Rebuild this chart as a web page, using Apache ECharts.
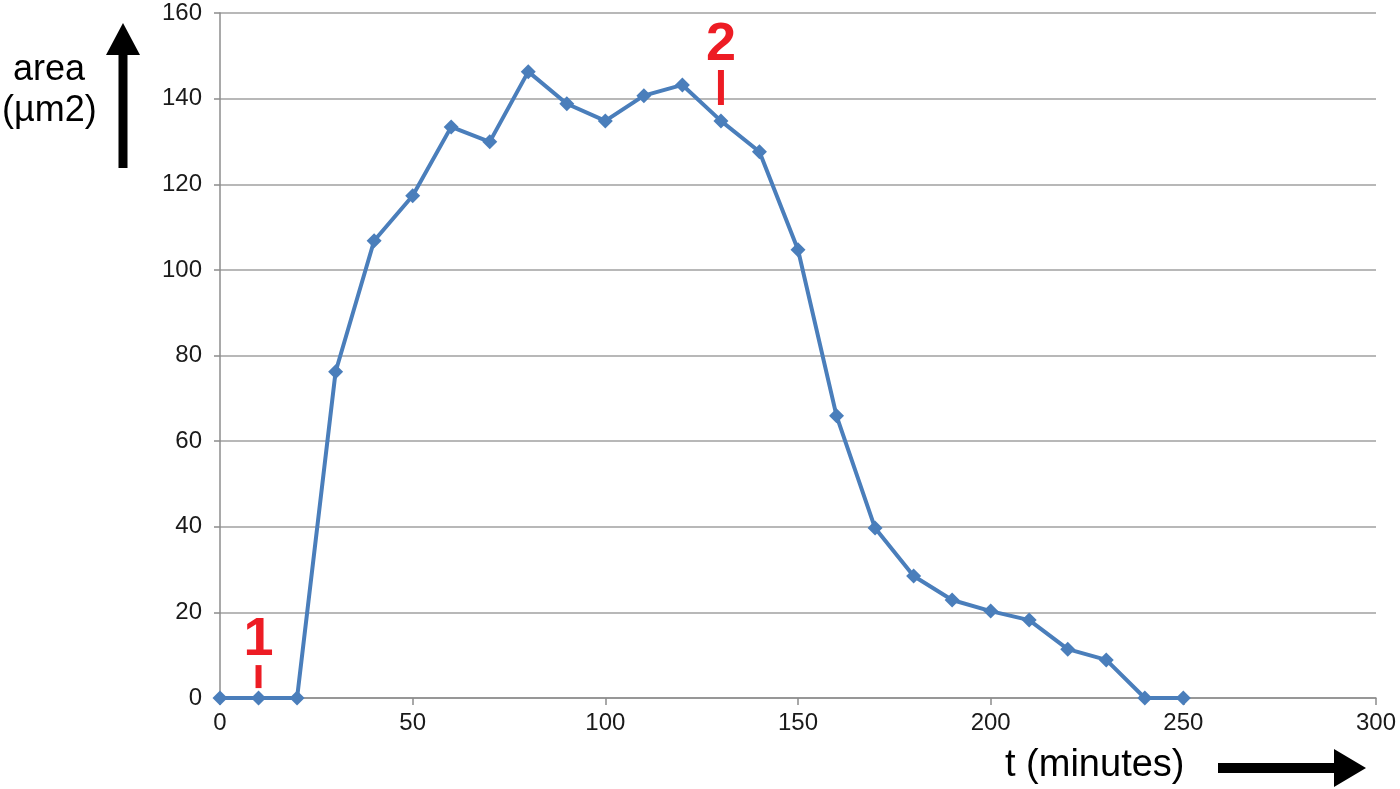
<!DOCTYPE html>
<html>
<head>
<meta charset="utf-8">
<script src="https://cdn.jsdelivr.net/npm/echarts@6/dist/echarts.min.js"></script>
<style>
  html, body { margin: 0; padding: 0; background: #fff; }
  #main { width: 1400px; height: 789px; }
</style>
</head>
<body>
<div id="main"></div>
<script>
// time in minutes
const times = [0, 10, 20, 30, 40, 50, 60, 70, 80, 90, 100, 110, 120, 130, 140, 150, 160, 170, 180, 190, 200, 210, 220, 230, 240, 250]
// area in µm2
const areas = [0, 0, 0, 76.2, 106.8, 117.3, 133.4, 129.9, 146.3, 138.8, 134.8, 140.7, 143.2, 134.8, 127.6, 104.7, 65.9, 39.7, 28.5, 22.9, 20.3, 18.2, 11.4, 8.9, 0, 0]
// numbered events: label, time, y centre of the tick mark
const events = [
    { name: '1', t: 10, y: 5 },
    { name: '2', t: 130, y: 142.6 }
]

const chart = echarts.init(document.getElementById('main'))
const font = 'Arial, "Liberation Sans", sans-serif'

const option = {
    animation: false,
    grid: { left: 220, right: 24, top: 13, bottom: 91 },
    xAxis: {
        type: 'value',
        min: 0, max: 300, interval: 50,
        axisLine: { lineStyle: { color: '#8c8c8c', width: 1.5 } },
        axisTick: { show: true, length: 7, lineStyle: { color: '#8c8c8c', width: 1.5 } },
        axisLabel: { color: '#1a1a1a', fontSize: 24, fontFamily: font, margin: 13 },
        splitLine: { show: false }
    },
    yAxis: {
        type: 'value',
        min: 0, max: 160, interval: 20,
        axisLine: { show: true, lineStyle: { color: '#8c8c8c', width: 1.5 } },
        axisTick: { show: true, length: 6, lineStyle: { color: '#8c8c8c', width: 1.5 } },
        axisLabel: { color: '#1a1a1a', fontSize: 24, fontFamily: font, margin: 18 },
        splitLine: { lineStyle: { color: '#a0a0a0', width: 1.5 } }
    },
    series: [
        {
            type: 'line',
            data: times.map((t, i) => [t, areas[i]]),
            symbol: 'diamond',
            symbolSize: 15,
            lineStyle: { color: '#4a7ebb', width: 4 },
            itemStyle: { color: '#4a7ebb' },
            markPoint: {
                silent: true,
                symbol: 'rect',
                itemStyle: { color: '#ed1c24' },
                data: events.map(e => ({
                    coord: [e.t, e.y],
                    symbolSize: e.name === '1' ? [6, 23] : [6, 35],
                    label: {
                        show: true,
                        formatter: e.name,
                        position: 'top',
                        distance: -2,
                        color: '#ed1c24',
                        fontSize: 54,
                        fontWeight: 'bold',
                        fontFamily: font
                    }
                }))
            }
        }
    ],
    graphic: [
        { type: 'text', left: 13, top: 52, style: { text: 'area', font: '36px ' + font, fill: '#000' } },
        { type: 'text', left: 2, top: 93, style: { text: '(µm2)', font: '36px ' + font, fill: '#000' } },
        { type: 'polygon', shape: { points: [[118.5, 168], [127.5, 168], [127.5, 55], [140, 55], [123, 23], [106, 55], [118.5, 55]] }, style: { fill: '#000' } },
        { type: 'text', left: 1005, top: 747, style: { text: 't (minutes)', font: '38px ' + font, fill: '#000' } },
        { type: 'polygon', shape: { points: [[1218, 763], [1334, 763], [1334, 749], [1366, 768], [1334, 787], [1334, 773], [1218, 773]] }, style: { fill: '#000' } }
    ]
}

chart.setOption(option)
</script>
</body>
</html>
